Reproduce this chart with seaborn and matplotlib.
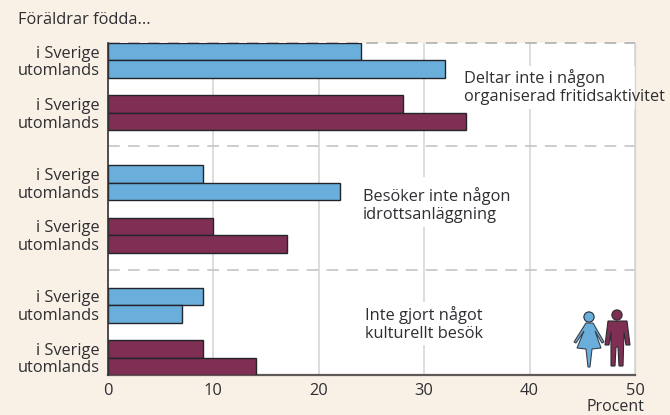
import matplotlib
matplotlib.use('Agg')
import matplotlib.pyplot as plt
import pandas as pd
import seaborn as sns
from matplotlib.patches import Circle, Polygon

rows = [0, 1, 3, 4, 7, 8, 10, 11, 14, 15, 17, 18]
labels = ['i Sverige', 'utomlands'] * 6
values = [24, 32, 28, 34, 9, 22, 10, 17, 9, 7, 9, 14]
group = ['flicka', 'flicka', 'pojke', 'pojke'] * 3
activities = ['Deltar inte i någon\norganiserad fritidsaktivitet',
              'Besöker inte någon\nidrottsanläggning',
              'Inte gjort något\nkulturellt besök']

BG = '#F9F1E6'
BLUE = '#6AAEDC'
PURPLE = '#7F2F54'
INK = '#2E2E33'
FS = 11.8

sns.set_theme(style='white')
plt.rcParams['font.family'] = ['Open Sans', 'DejaVu Sans']

df = pd.DataFrame({'row': rows, 'value': values, 'group': group})

fig = plt.figure(figsize=(6.7, 4.15), dpi=100, facecolor=BG)
ax = fig.add_axes([108 / 670, 1 - 375 / 415, 527 / 670, 332 / 415])
ax.set_facecolor('white')

sns.barplot(data=df, y='row', x='value', hue='group', order=list(range(19)), orient='y',
            palette={'flicka': BLUE, 'pojke': PURPLE}, dodge=False, width=1, saturation=1,
            edgecolor='#23252B', linewidth=1, legend=False, ax=ax, zorder=3)

ax.set_xlim(0, 50)
ax.set_ylim(18.5, -0.5)
ax.set_xlabel('')
ax.set_ylabel('')
ax.set_yticks(rows)
ax.set_yticklabels(labels, color=INK, fontsize=FS)
ax.set_xticks([0, 10, 20, 30, 40, 50])
ax.tick_params(axis='both', length=0, labelsize=FS, labelcolor=INK)
ax.tick_params(axis='y', pad=6)
ax.tick_params(axis='x', pad=6)
ax.grid(axis='x', color='#DADADA', lw=1.3, zorder=0)
ax.set_axisbelow(True)

for y in [5.4, 12.5]:
    ax.axhline(y, color='#C9C9C9', lw=1.3, dashes=(6.5, 4.5), zorder=1)
ax.axhline(-0.5, color='#B5B5B5', lw=1.3, dashes=(6.5, 4.5), zorder=1, clip_on=False)

ax.spines['top'].set_visible(False)
ax.spines['left'].set_color('#333338')
ax.spines['left'].set_linewidth(1.2)
ax.spines['left'].set_zorder(5)
ax.spines['right'].set_color('#D5D5D5')
ax.spines['right'].set_linewidth(1)
ax.spines['bottom'].set_color('#5F5A57')
ax.spines['bottom'].set_linewidth(1.6)

# white behind the texts, cuts the gridlines
ax.fill_betweenx([0.82, 3.28], 33.5, 50, color='white', lw=0, zorder=2)
ax.fill_betweenx([7.17, 10.03], 24, 38, color='white', lw=0, zorder=2)
ax.fill_betweenx([14.3, 16.8], 24, 38, color='white', lw=0, zorder=2)

ax.text(33.8, 2.03, activities[0], color=INK, fontsize=FS, va='center', linespacing=1.2, zorder=6)
ax.text(24.2, 8.78, activities[1], color=INK, fontsize=FS, va='center', linespacing=1.2, zorder=6)
ax.text(24.4, 15.58, activities[2], color=INK, fontsize=FS, va='center', linespacing=1.2, zorder=6)

fig.text(18 / 670, 1 - 20 / 415, 'Föräldrar födda...', color=INK, fontsize=FS, va='center')
fig.text(644 / 670, 1 - 406.5 / 415, 'Procent', color=INK, fontsize=11.5, va='center', ha='right')


def px(points):
    return [(x / 670, 1 - y / 415) for x, y in points]


def icon_part(patch):
    patch.set_transform(fig.transFigure)
    fig.add_artist(patch)


woman = [(586, 323), (593, 323), (604, 342), (602, 343), (595, 331), (601, 348),
         (592, 349), (590, 367), (588, 367), (586, 349), (577, 348), (584, 331),
         (576, 343), (574, 342)]
man = [(608, 321), (627, 321), (630, 345), (626, 345), (624, 332), (623, 366),
       (619, 366), (618, 347), (616, 347), (615, 366), (611, 366), (611, 332),
       (609, 345), (605, 345)]
icon_part(Polygon(px(woman), facecolor=BLUE, edgecolor='#3A4148', lw=0.8))
icon_part(Polygon(px(man), facecolor=PURPLE, edgecolor='#2B2B30', lw=0.8))
for cx, cy, col in [(589, 317, BLUE), (617, 315, PURPLE)]:
    head = fig.add_axes([(cx - 6) / 670, 1 - (cy + 6) / 415, 12 / 670, 12 / 415])
    head.set_xlim(-1, 1)
    head.set_ylim(-1, 1)
    head.axis('off')
    head.add_patch(Circle((0, 0), 0.85, facecolor=col, edgecolor='#2B2B30', lw=0.8))

fig.savefig('out.png', dpi=100, facecolor=BG)
